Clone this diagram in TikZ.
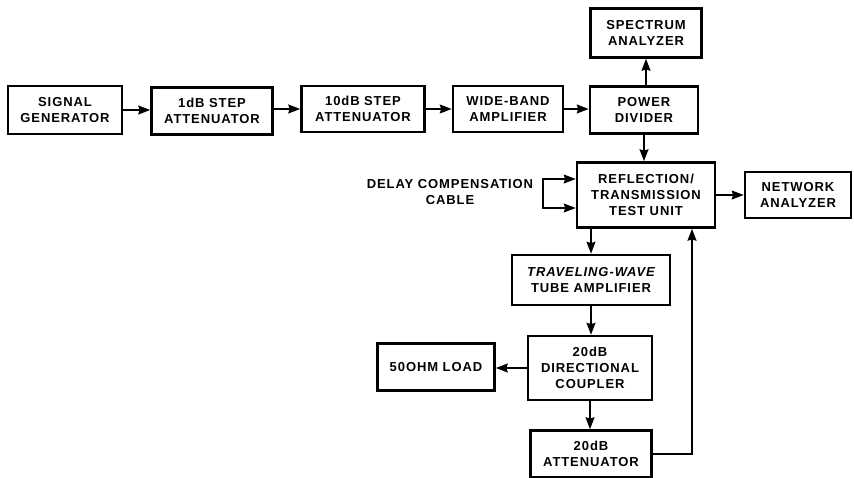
\documentclass[tikz,border=0pt]{standalone}
\usepackage{fontspec}
\usetikzlibrary{arrows.meta,calc}
\newfontfamily\lblfont[LetterSpace=7]{Liberation Sans}
\tikzset{
  blk/.style={draw, line width=2.6pt, align=center, inner sep=0pt,
    font=\lblfont\bfseries\fontsize{13}{16}\selectfont},
  lbl/.style={align=center, inner sep=0pt,
    font=\lblfont\bfseries\fontsize{13}{16}\selectfont},
  conn/.style={line width=1.6pt, -{Stealth[length=12pt,width=9pt,inset=1.5pt]}},
  wire/.style={line width=1.6pt},
}
\begin{document}
\begin{tikzpicture}[x=1pt,y=-1pt]
\useasboundingbox (0,0) rectangle (854,478);
\node[blk, minimum width=114pt, minimum height=48pt] (sg) at (65,110) {SIGNAL\\GENERATOR};
\node[blk, minimum width=121pt, minimum height=47pt] (att1) at (212,111) {1dB STEP\\ATTENUATOR};
\node[blk, minimum width=123pt, minimum height=46pt] (att10) at (363,109) {10dB STEP\\ATTENUATOR};
\node[blk, minimum width=110pt, minimum height=46pt] (wba) at (508,109) {WIDE-BAND\\AMPLIFIER};
\node[blk, minimum width=108pt, minimum height=47pt] (pd) at (644,110) {POWER\\DIVIDER};
\node[blk, minimum width=111pt, minimum height=49pt] (sa) at (646,33) {SPECTRUM\\ANALYZER};
\node[blk, minimum width=138pt, minimum height=65pt] (rt) at (646,195) {REFLECTION/\\TRANSMISSION\\TEST UNIT};
\node[blk, minimum width=106pt, minimum height=46pt] (na) at (798,195) {NETWORK\\ANALYZER};
\node[blk, minimum width=158pt, minimum height=50pt] (twt) at (591,280) {\itshape TRAVELING-WAVE\\TUBE AMPLIFIER};
\node[blk, minimum width=124pt, minimum height=64pt] (dc) at (590,368) {20dB\\DIRECTIONAL\\COUPLER};
\node[blk, minimum width=117pt, minimum height=47pt] (load) at (436,367) {50OHM LOAD};
\node[blk, minimum width=121pt, minimum height=47pt] (att20) at (591,454) {20dB\\ATTENUATOR};
\node[lbl] (dcl) at (450,192) {DELAY COMPENSATION\\CABLE};

\draw[conn] (sg.east) -- (sg.east -| att1.west);
\draw[conn] (att1.east |- att10.west) -- (att10.west);
\draw[conn] (att10.east) -- (att10.east -| wba.west);
\draw[conn] (wba.east) -- (wba.east -| pd.west);
\draw[conn] (sa.south |- pd.north) -- (sa.south);
\draw[conn] (pd.south) -- (pd.south |- rt.north);
\draw[conn] (rt.east) -- (rt.east -| na.west);
\draw[conn] (rt.south -| twt.north) -- (twt.north);
\draw[conn] (twt.south) -- (twt.south |- dc.north);
\draw[conn] (dc.west) -- (dc.west -| load.east);
\draw[conn] (dc.south) -- (dc.south |- att20.north);
\draw[conn] (att20.east) -| ($(rt.south)+(46,0)$);
\coordinate (c1) at (543,179);
\coordinate (c2) at (543,208);
\draw[wire, {Stealth[length=12pt,width=9pt,inset=1.5pt]}-{Stealth[length=12pt,width=9pt,inset=1.5pt]}]
  (c1 -| rt.west) -- (c1) -- (c2) -- (c2 -| rt.west);
\end{tikzpicture}
\end{document}
